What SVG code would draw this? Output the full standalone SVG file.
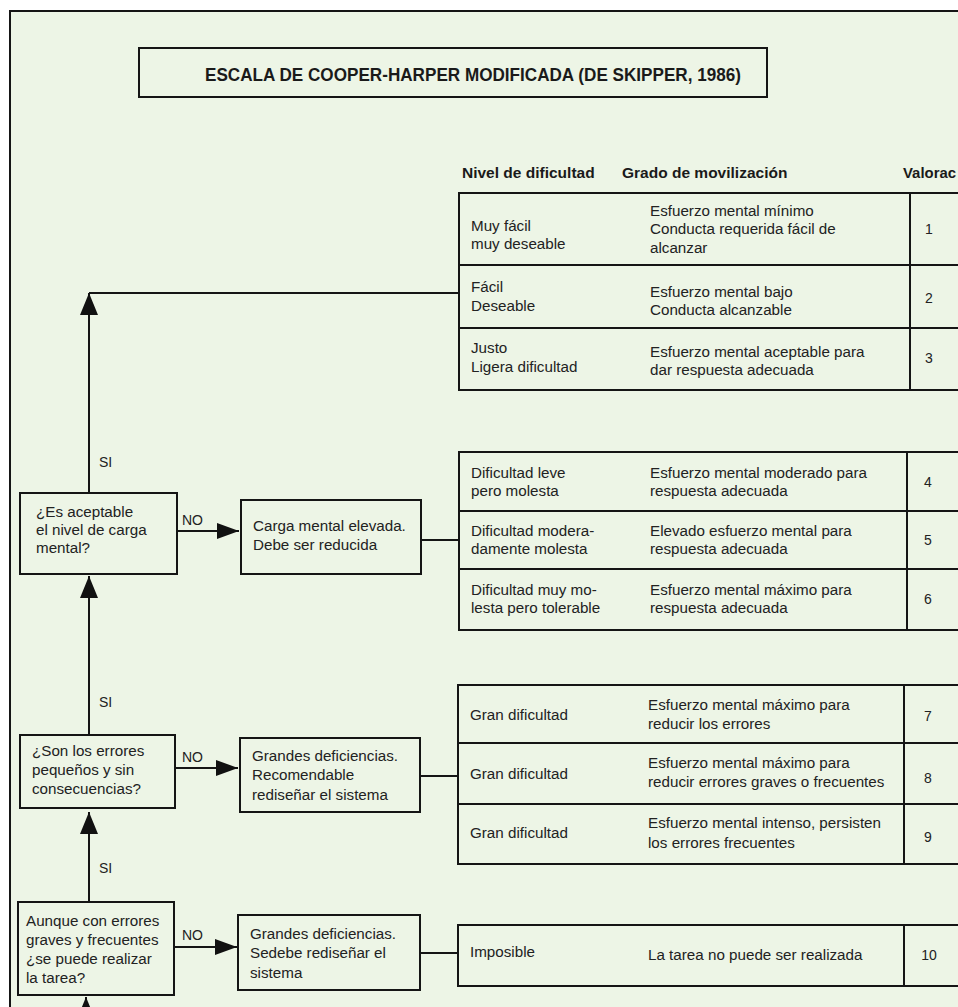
<svg xmlns="http://www.w3.org/2000/svg" width="958" height="1007" viewBox="0 0 958 1007">
<defs>
<marker id="arrV" markerUnits="userSpaceOnUse" markerWidth="24" markerHeight="24" refX="22" refY="9" orient="auto">
<path d="M0,0 L22,9 L0,18 z" fill="#111"/>
</marker>
<marker id="arrH" markerUnits="userSpaceOnUse" markerWidth="24" markerHeight="20" refX="22" refY="8" orient="auto">
<path d="M0,0 L22,8 L0,16 z" fill="#111"/>
</marker>
</defs>
<style>
.bx{fill:none;stroke:#151515;stroke-width:2}
.ln{fill:none;stroke:#151515;stroke-width:2}
.t{font-family:"Liberation Sans",Arial,sans-serif;font-size:15.2px;fill:#222}
.h{font-family:"Liberation Sans",Arial,sans-serif;font-size:15.5px;font-weight:bold;fill:#1a1a1a}
.tt{font-family:"Liberation Sans",Arial,sans-serif;font-size:19px;font-weight:bold;fill:#1a1a1a}
.n{font-family:"Liberation Sans",Arial,sans-serif;font-size:14px;fill:#222;text-anchor:middle}
.lb{font-family:"Liberation Sans",Arial,sans-serif;font-size:14px;fill:#222}
</style>
<rect x="0" y="0" width="958" height="1007" fill="#ffffff"/>
<rect x="10" y="11" width="960" height="1000" fill="#edf5e6"/>
<path class="ln" d="M10,1007 V11 H958"/>

<g id="title">
<rect class="bx" x="139" y="48" width="628" height="49"/>
<text class="tt" x="473" y="81" text-anchor="middle" textLength="536" lengthAdjust="spacingAndGlyphs">ESCALA DE COOPER-HARPER MODIFICADA (DE SKIPPER, 1986)</text>
</g>

<g id="headers">
<text class="h" x="462" y="178">Nivel de dificultad</text>
<text class="h" x="622" y="178">Grado de movilización</text>
<text class="h" x="903" y="178" textLength="53" lengthAdjust="spacingAndGlyphs">Valorac</text>
</g>

<g id="connectors">
<path class="ln" d="M89,293 H458"/>
<line class="ln" x1="89" y1="493" x2="89" y2="293" marker-end="url(#arrV)"/>
<line class="ln" x1="89" y1="735" x2="89" y2="576" marker-end="url(#arrV)"/>
<line class="ln" x1="89" y1="902" x2="89" y2="812" marker-end="url(#arrV)"/>
<line class="ln" x1="86" y1="1030" x2="86" y2="997" marker-end="url(#arrV)"/>
<line class="ln" x1="177" y1="531" x2="239" y2="531" marker-end="url(#arrH)"/>
<line class="ln" x1="175" y1="768" x2="238" y2="768" marker-end="url(#arrH)"/>
<line class="ln" x1="174" y1="947" x2="237" y2="947" marker-end="url(#arrH)"/>
<line class="ln" x1="421" y1="540" x2="458" y2="540"/>
<line class="ln" x1="420" y1="776" x2="458" y2="776"/>
<line class="ln" x1="420" y1="953" x2="458" y2="953"/>
<text class="lb" x="99" y="467">SI</text>
<text class="lb" x="99" y="707">SI</text>
<text class="lb" x="99" y="873">SI</text>
<text class="lb" x="182" y="525">NO</text>
<text class="lb" x="182" y="762">NO</text>
<text class="lb" x="182" y="940">NO</text>
</g>

<g id="q1">
<rect class="bx" x="20" y="493" width="157" height="81"/>
<text class="t" x="36" y="517">¿Es aceptable</text>
<text class="t" x="36" y="535">el nivel de carga</text>
<text class="t" x="36" y="553">mental?</text>
</g>
<g id="r1">
<rect class="bx" x="241" y="500" width="180" height="74"/>
<text class="t" x="253" y="531">Carga mental elevada.</text>
<text class="t" x="253" y="550">Debe ser reducida</text>
</g>
<g id="q2">
<rect class="bx" x="20" y="735" width="155" height="73"/>
<text class="t" x="32" y="756">¿Son los errores</text>
<text class="t" x="32" y="775">pequeños y sin</text>
<text class="t" x="32" y="794">consecuencias?</text>
</g>
<g id="r2">
<rect class="bx" x="240" y="738" width="180" height="74"/>
<text class="t" x="252" y="761">Grandes deficiencias.</text>
<text class="t" x="252" y="780">Recomendable</text>
<text class="t" x="252" y="800">rediseñar el sistema</text>
</g>
<g id="q3">
<rect class="bx" x="18" y="902" width="156" height="93"/>
<text class="t" x="26" y="926">Aunque con errores</text>
<text class="t" x="26" y="945">graves y frecuentes</text>
<text class="t" x="26" y="964">¿se puede realizar</text>
<text class="t" x="26" y="983">la tarea?</text>
</g>
<g id="r3">
<rect class="bx" x="238" y="915" width="182" height="75"/>
<text class="t" x="250" y="939">Grandes deficiencias.</text>
<text class="t" x="250" y="958">Sedebe rediseñar el</text>
<text class="t" x="250" y="978">sistema</text>
</g>

<g id="table1">
<rect class="bx" x="459" y="193" width="520" height="197"/>
<line class="ln" x1="459" y1="265" x2="970" y2="265"/>
<line class="ln" x1="459" y1="328" x2="970" y2="328"/>
<line class="ln" x1="910" y1="193" x2="910" y2="390"/>
<text class="t" x="471" y="231">Muy fácil</text>
<text class="t" x="471" y="249">muy deseable</text>
<text class="t" x="650" y="216">Esfuerzo mental mínimo</text>
<text class="t" x="650" y="234">Conducta requerida fácil de</text>
<text class="t" x="650" y="253">alcanzar</text>
<text class="n" x="929" y="234">1</text>
<text class="t" x="471" y="292">Fácil</text>
<text class="t" x="471" y="311">Deseable</text>
<text class="t" x="650" y="297">Esfuerzo mental bajo</text>
<text class="t" x="650" y="315">Conducta alcanzable</text>
<text class="n" x="929" y="303">2</text>
<text class="t" x="471" y="353">Justo</text>
<text class="t" x="471" y="372">Ligera dificultad</text>
<text class="t" x="650" y="357">Esfuerzo mental aceptable para</text>
<text class="t" x="650" y="375">dar respuesta adecuada</text>
<text class="n" x="929" y="363">3</text>
</g>

<g id="table2">
<rect class="bx" x="459" y="452" width="520" height="178"/>
<line class="ln" x1="459" y1="511" x2="970" y2="511"/>
<line class="ln" x1="459" y1="569" x2="970" y2="569"/>
<line class="ln" x1="907" y1="452" x2="907" y2="630"/>
<text class="t" x="471" y="478">Dificultad leve</text>
<text class="t" x="471" y="496">pero molesta</text>
<text class="t" x="650" y="478">Esfuerzo mental moderado para</text>
<text class="t" x="650" y="496">respuesta adecuada</text>
<text class="n" x="928" y="487">4</text>
<text class="t" x="471" y="536">Dificultad  modera-</text>
<text class="t" x="471" y="554">damente molesta</text>
<text class="t" x="650" y="536">Elevado esfuerzo mental para</text>
<text class="t" x="650" y="554">respuesta adecuada</text>
<text class="n" x="928" y="545">5</text>
<text class="t" x="471" y="595">Dificultad muy mo-</text>
<text class="t" x="471" y="613">lesta pero tolerable</text>
<text class="t" x="650" y="595">Esfuerzo mental máximo para</text>
<text class="t" x="650" y="613">respuesta adecuada</text>
<text class="n" x="928" y="604">6</text>
</g>

<g id="table3">
<rect class="bx" x="458" y="685" width="520" height="179"/>
<line class="ln" x1="458" y1="743" x2="970" y2="743"/>
<line class="ln" x1="458" y1="804" x2="970" y2="804"/>
<line class="ln" x1="904" y1="685" x2="904" y2="864"/>
<text class="t" x="470" y="720">Gran dificultad</text>
<text class="t" x="648" y="710">Esfuerzo mental máximo para</text>
<text class="t" x="648" y="729">reducir los errores</text>
<text class="n" x="928" y="721">7</text>
<text class="t" x="470" y="779">Gran dificultad</text>
<text class="t" x="648" y="768">Esfuerzo mental máximo para</text>
<text class="t" x="648" y="787">reducir errores graves o frecuentes</text>
<text class="n" x="928" y="783">8</text>
<text class="t" x="470" y="838">Gran dificultad</text>
<text class="t" x="648" y="828">Esfuerzo mental intenso, persisten</text>
<text class="t" x="648" y="848">los errores frecuentes</text>
<text class="n" x="928" y="842">9</text>
</g>

<g id="table4">
<rect class="bx" x="458" y="925" width="520" height="61"/>
<line class="ln" x1="904" y1="925" x2="904" y2="986"/>
<text class="t" x="470" y="957">Imposible</text>
<text class="t" x="648" y="960">La tarea no puede ser realizada</text>
<text class="n" x="929" y="960">10</text>
</g>
</svg>
